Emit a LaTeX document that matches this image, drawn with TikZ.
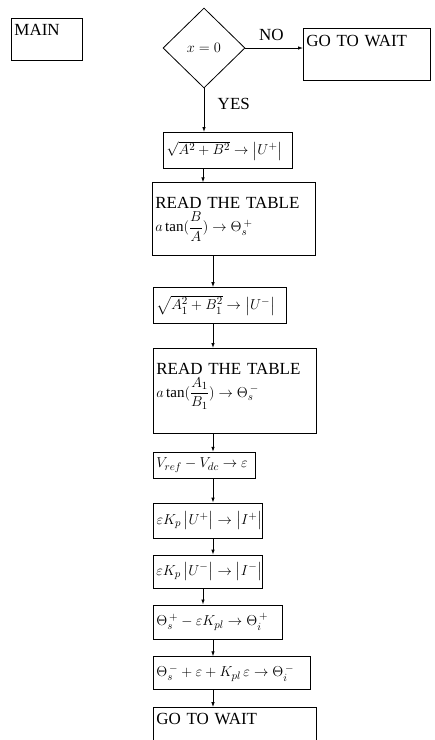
\documentclass[tikz,border=0pt]{standalone}
\usepackage{amsmath}
\usepackage{amssymb}
\usepackage{fontspec}
\setmainfont{Liberation Serif}
\usepackage{tikz}
\usetikzlibrary{arrows.meta, positioning, shapes.geometric}

\begin{document}
\begin{tikzpicture}[
        x=1pt, y=-1pt,
        node distance=18pt,
        every node/.style={font=\fontsize{17}{20}\selectfont},
        box/.style={draw, line width=0.8pt, anchor=north west, align=left, inner xsep=3pt, inner ysep=2pt},
        mbox/.style={box, font=\fontsize{15}{18}\selectfont},
        dec/.style={draw, line width=0.8pt, diamond, aspect=1, minimum width=82pt, minimum height=80pt, inner sep=0pt, font=\fontsize{14}{16}\selectfont},
        arr/.style={-{Latex[length=5pt,width=3.5pt]}, line width=0.8pt}
      ]
      \useasboundingbox (0,0) rectangle (435,740);
      \coordinate (ax) at (213,0);
      \coordinate (bx) at (203,0);
      % top row
      \node[box, text width=65pt, minimum height=42pt, text depth=20pt] (main) at (11,18) {MAIN};
      \node[dec] (zero) at (204,48) {$x=0$};
      \node[box, text width=121pt, minimum height=52pt, text depth=28pt] (wait) at (303,28) {GO TO WAIT};
      \draw[arr] (zero) -- (wait.west |- zero) node[pos=0.45, above=4pt] (no) {NO};
      % main chain
      \node[mbox, line width=1.4pt, text width=123pt, minimum height=36pt] (mag1) at (163,132)
        {\mbox{$\sqrt{A^2+B^2}\to\left|U^{+}\right|$}};
      \node[box, text width=157pt, minimum height=73pt, below=13pt of mag1.south west, xshift=-11pt, anchor=north west] (tab1)
        {READ THE TABLE\\[3pt] \mbox{\fontsize{15}{18}\selectfont$a\tan(\dfrac{B}{A})\to\Theta_s^{\,+}$}};
      \node[mbox, text width=127pt, minimum height=36pt, below=31pt of tab1.south west, xshift=1pt, anchor=north west] (mag2)
        {\mbox{$\sqrt{A_1^2+B_1^2}\to\left|U^{-}\right|$}};
      \node[box, text width=157pt, minimum height=85pt, below=24pt of mag2.south west, anchor=north west] (tab2)
        {READ THE TABLE\\[3pt] \mbox{\fontsize{15}{18}\selectfont$a\tan(\dfrac{A_1}{B_1})\to\Theta_s^{\,-}$}\rule[-22pt]{0pt}{22pt}};
      \node[mbox, text width=96pt, minimum height=26pt, below=18pt of tab2.south west, anchor=north west] (err)
        {\mbox{$V_{ref}-V_{dc}\to\varepsilon$}};
      \node[mbox, line width=1.1pt, text width=103pt, minimum height=35pt, below=24pt of err.south west, anchor=north west] (cur1)
        {\mbox{$\varepsilon K_p\left|U^{+}\right|\to\left|I^{+}\right|$}};
      \node[mbox, text width=103pt, minimum height=33pt, below=16pt of cur1.south west, anchor=north west] (cur2)
        {\mbox{$\varepsilon K_p\left|U^{-}\right|\to\left|I^{-}\right|$}};
      \node[mbox, text width=123pt, minimum height=34pt, below=16pt of cur2.south west, anchor=north west] (ang1)
        {\mbox{$\Theta_s^{\,+}-\varepsilon K_{pl}\to\Theta_i^{\,+}$}};
      \node[mbox, text width=151pt, minimum height=33pt, below=17pt of ang1.south west, anchor=north west] (ang2)
        {\mbox{$\Theta_s^{\,-}+\varepsilon+K_{pl}\,\varepsilon\to\Theta_i^{\,-}$}};
      \node[box, text width=157pt, minimum height=36pt, text depth=14pt, below=17pt of ang2.south west, anchor=north west] (wait2)
        {GO TO WAIT};
      % connectors
      \draw[arr] (zero.south) -- (mag1.north -| zero.south) node[pos=0.35, right=10pt] (yes) {YES};
      \draw[arr] (mag1.south -| bx) -- (tab1.north -| bx);
      \draw[arr] (tab1.south -| ax) -- (mag2.north -| ax);
      \draw[arr] (mag2.south -| ax) -- (tab2.north -| ax);
      \draw[arr] (tab2.south -| ax) -- (err.north -| ax);
      \draw[arr] (err.south -| ax)  -- (cur1.north -| ax);
      \draw[arr] (cur1.south -| ax) -- (cur2.north -| ax);
      \draw[arr] (cur2.south -| bx) -- (ang1.north -| bx);
      \draw[arr] (ang1.south -| ax) -- (ang2.north -| ax);
      \draw[arr] (ang2.south -| ax) -- (wait2.north -| ax);
    \end{tikzpicture}
\end{document}
